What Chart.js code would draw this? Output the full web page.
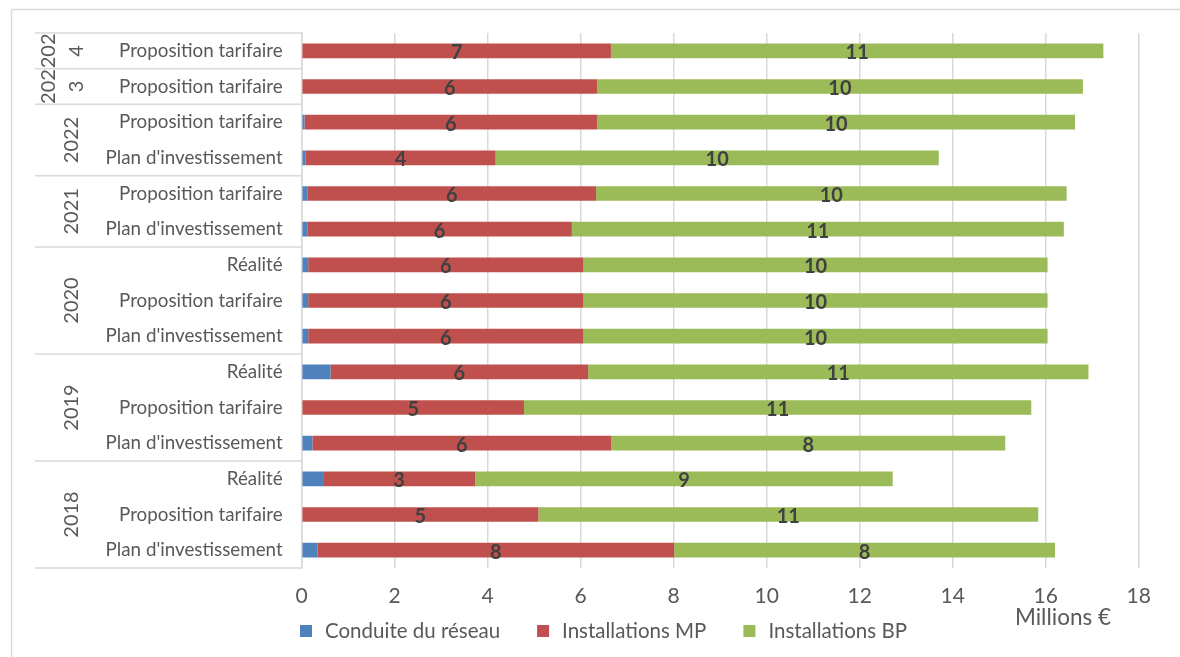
<!DOCTYPE html>
<html><head><meta charset="utf-8">
<script src="https://cdn.jsdelivr.net/npm/chart.js@4/dist/chart.umd.min.js"></script>
<style>html,body{margin:0;padding:0;background:#fff;}#wrap{position:relative;width:1180px;height:657px;}canvas{display:block;}</style>
</head><body><div id="wrap"><canvas id="c" width="1180" height="657"></canvas></div>
<script>
// ---- data (top row first) ----
const subLabels = [
  'Proposition tarifaire',
  'Proposition tarifaire',
  'Proposition tarifaire', "Plan d'investissement",
  'Proposition tarifaire', "Plan d'investissement",
  'Réalité', 'Proposition tarifaire', "Plan d'investissement",
  'Réalité', 'Proposition tarifaire', "Plan d'investissement",
  'Réalité', 'Proposition tarifaire', "Plan d'investissement"
];
const years = ['2024', '2023', '2022', '2021', '2020', '2019', '2018'];
const yearRows = [1, 1, 2, 2, 3, 3, 3];
const seriesNames = ['Conduite du réseau', 'Installations MP', 'Installations BP'];
const conduite  = [0, 0, 0.06, 0.08, 0.13, 0.12, 0.14, 0.14, 0.14, 0.62, 0, 0.23, 0.46, 0, 0.34];
const installMP = [6.65, 6.35, 6.29, 4.09, 6.20, 5.69, 5.92, 5.92, 5.92, 5.54, 4.78, 6.43, 3.27, 5.09, 7.67];
const installBP = [10.59, 10.45, 10.28, 9.53, 10.12, 10.58, 9.98, 9.98, 9.98, 10.76, 10.91, 8.47, 8.98, 10.75, 8.19];
const xTicks = [0, 2, 4, 6, 8, 10, 12, 14, 16, 18];
const axisTitle = 'Millions €';

// ---- style ----
const colors = ['#4f81bd', '#c0504d', '#9bbb59'];
const FONT = 'Lato';
const TEXT = '#595959';
const LINE = '#d9d9d9';

const decor = {
  id: 'decor',
  beforeDraw(chart) {
    const ctx = chart.ctx;
    ctx.save();
    ctx.strokeStyle = LINE;
    ctx.lineWidth = 1.5;
    ctx.beginPath();
    ctx.moveTo(11.5, 9.5); ctx.lineTo(1180, 9.5);
    ctx.moveTo(11.5, 9.5); ctx.lineTo(11.5, 657);
    ctx.stroke();
    // group separators on category axis
    const y = chart.scales.y, ca = chart.chartArea;
    const bounds = [ca.top];
    let idx = 0;
    yearRows.forEach(n => {
      idx += n;
      if (idx >= subLabels.length) bounds.push(ca.bottom);
      else bounds.push((y.getPixelForValue(idx - 1) + y.getPixelForValue(idx)) / 2);
    });
    ctx.beginPath();
    bounds.forEach(b => { ctx.moveTo(35, b); ctx.lineTo(ca.left, b); });
    ctx.stroke();
    ctx.restore();
  },
  afterDatasetsDraw(chart) {
    const ctx = chart.ctx;
    ctx.save();
    ctx.font = 'bold 20px ' + FONT;
    ctx.fillStyle = '#404040';
    ctx.textAlign = 'center';
    ctx.textBaseline = 'middle';
    [1, 2].forEach(di => {
      const meta = chart.getDatasetMeta(di);
      const vals = chart.data.datasets[di].data;
      meta.data.forEach((bar, i) => {
        if (!vals[i]) return;
        ctx.fillText(String(Math.round(vals[i])), (bar.x + bar.base) / 2, bar.y + 2);
      });
    });
    ctx.restore();
  },
  afterDraw(chart) {
    const ctx = chart.ctx;
    const y = chart.scales.y;
    ctx.save();
    ctx.fillStyle = TEXT;
    // year labels (rotated)
    ctx.font = '20px ' + FONT;
    ctx.textAlign = 'center';
    ctx.textBaseline = 'middle';
    let idx = 0;
    years.forEach((yr, g) => {
      const n = yearRows[g];
      const top = y.getPixelForValue(idx) - 17.8;
      const bot = y.getPixelForValue(idx + n - 1) + 17.8;
      const cy = (top + bot) / 2;
      idx += n;
      const w = ctx.measureText(yr).width;
      let lines = [yr];
      if (w > bot - top - 4) lines = [yr.slice(0, yr.length - 1), yr.slice(yr.length - 1)];
      const xs = lines.length === 1 ? [72] : [49, 77];
      lines.forEach((t, k) => {
        ctx.save();
        ctx.translate(xs[k], cy);
        ctx.rotate(-Math.PI / 2);
        ctx.fillText(t, 0, 0);
        ctx.restore();
      });
    });
    // axis title
    ctx.font = '22.5px ' + FONT;
    ctx.fillText(axisTitle, 1063, 618);
    // legend
    ctx.font = '20.5px ' + FONT;
    ctx.textAlign = 'left';
    let x = 300;
    seriesNames.forEach((name, i) => {
      ctx.fillStyle = colors[i];
      ctx.fillRect(x, 625, 12, 12);
      ctx.fillStyle = TEXT;
      ctx.fillText(name, x + 25, 631);
      x += 25 + ctx.measureText(name).width + 37;
    });
    ctx.restore();
  }
};

new Chart(document.getElementById('c'), {
  type: 'bar',
  data: {
    labels: subLabels,
    datasets: [
      { label: seriesNames[0], data: conduite, backgroundColor: colors[0] },
      { label: seriesNames[1], data: installMP, backgroundColor: colors[1] },
      { label: seriesNames[2], data: installBP, backgroundColor: colors[2] }
    ]
  },
  options: {
    indexAxis: 'y',
    responsive: false,
    animation: false,
    devicePixelRatio: 1,
    layout: { padding: { top: 33, right: 41.3, left: 0, bottom: 0 } },
    datasets: { bar: { barPercentage: 0.41, categoryPercentage: 1, borderWidth: 0 } },
    plugins: { legend: { display: false }, tooltip: { enabled: false } },
    scales: {
      x: {
        stacked: true, min: 0, max: 18,
        afterBuildTicks(s) { s.ticks = xTicks.map(v => ({ value: v })); },
        afterFit(s) { s.height = 89; },
        ticks: { color: TEXT, font: { family: FONT, size: 21 }, padding: 16 },
        grid: { color: LINE, lineWidth: 1.5, drawTicks: false },
        border: { display: false }
      },
      y: {
        stacked: true,
        afterFit(s) { s.width = 301.7; },
        ticks: { color: TEXT, font: { family: FONT, size: 18.8 }, padding: 19, autoSkip: false },
        grid: { display: false, drawTicks: false },
        border: { color: LINE, width: 1.5 }
      }
    }
  },
  plugins: [decor]
});
</script>
</body></html>
